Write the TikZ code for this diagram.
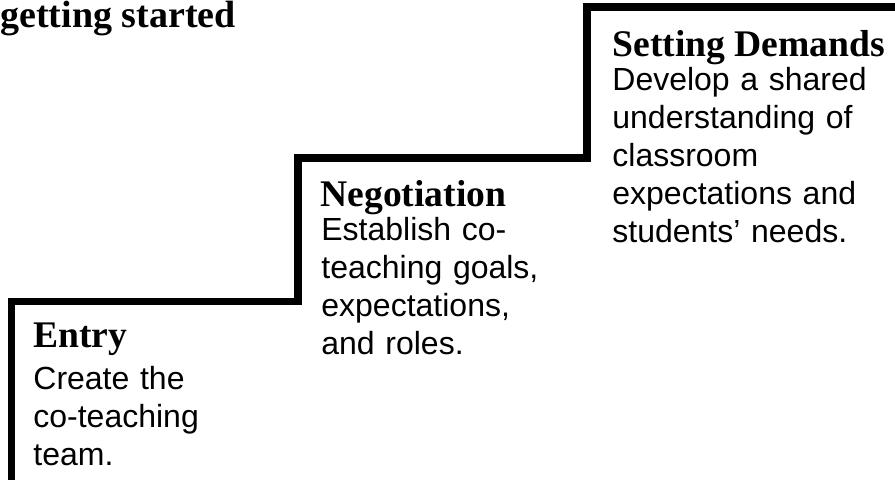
\documentclass[tikz,border=0pt]{standalone}
\usepackage{fontspec}
\setmainfont{Liberation Sans}
\newfontfamily\headserif{Liberation Serif}
\usepackage{tikz}
\usetikzlibrary{positioning}
\tikzset{
  stair/.style={line width=3.75pt, line join=miter, draw=black},
  title/.style={inner sep=0pt, anchor=base west, font=\headserif\bfseries\fontsize{19}{23}\selectfont},
  head/.style={inner sep=0pt, anchor=base west, font=\headserif\bfseries\fontsize{18.8}{22}\selectfont},
  body/.style={inner sep=0pt, anchor=base west, align=left, text width=150pt, font=\fontsize{16}{19}\selectfont}
}
\begin{document}
\begin{tikzpicture}[x=0.5pt,y=-0.5pt]
    \useasboundingbox (0,0) rectangle (895,480);
    % the three steps
    \draw[stair] (11.5,490) -- (11.5,301.5) -- (298,301.5) -- (298,158) -- (587,158) -- (587,7) -- (905,7);
    \node[title] (title) at (0,28) {getting started};
    % step 1
    \node[head] (entry)     at (33,348)  {Entry};
    \node[body] (entrytxt)  at (33,390)  {Create the\\co-teaching\\team.};
    % step 2
    \node[head] (nego)      at (320,207) {Negotiation};
    \node[body] (negotxt)   at (321,241) {Establish co-\\teaching goals,\\expectations,\\and roles.};
    % step 3
    \node[head] (setdem)    at (612,57)  {Setting Demands};
    \node[body] (setdemtxt) at (612,91)  {Develop a shared\\understanding of\\classroom\\expectations and\\students’ needs.};
\end{tikzpicture}
\end{document}
